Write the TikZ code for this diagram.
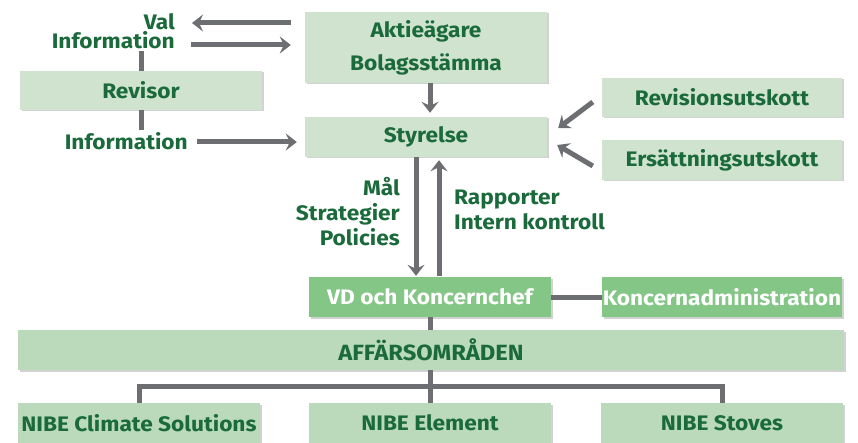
\documentclass[tikz,border=0pt]{standalone}
\usepackage{fontspec}
\setmainfont{Fira Sans}[FakeStretch=1.08]
\usetikzlibrary{arrows.meta,positioning,shadows,calc}
\definecolor{txtgreen}{HTML}{1B6A3B}
\definecolor{boxgreen}{HTML}{D0E3CF}
\definecolor{boxgreenb}{HTML}{BADABB}
\definecolor{vdgreen}{HTML}{83C686}
\definecolor{linegray}{HTML}{6D6E71}

\begin{document}
\begin{tikzpicture}[x=1pt, y=-1pt,
    every node/.style={font=\fontsize{21}{19}\selectfont\bfseries, text=txtgreen},
    box/.style={fill=boxgreen, minimum width=242pt, minimum height=40pt, inner sep=0pt, align=center,
        drop shadow={shadow xshift=1.5pt, shadow yshift=-1.5pt, fill=black!35}},
    darkbox/.style={box, fill=vdgreen, text=white},
    unitbox/.style={box, fill=boxgreenb},
    lbl/.style={inner sep=2pt},
    flow/.style={-{Stealth[length=11pt, width=17pt, inset=4pt]}, line width=5pt, draw=linegray},
    link/.style={line width=5pt, draw=linegray}
]
\useasboundingbox (0,0) rectangle (858,443);
% boxes
\node[box, minimum height=71pt, font=\fontsize{21}{33}\selectfont\bfseries] (aktie) at (426,47.5) {Aktieägare\\Bolagsstämma};
\node[box, minimum height=39pt] (revisor) at (141,90.5) {Revisor};
\node[box] (styrelse) at (426,137) {Styrelse};
\node[box, minimum width=240pt, minimum height=39pt] (revutsk) at (722,97.5) {Revisionsutskott};
\node[box, minimum width=240pt] (ersutsk) at (722,160) {Ersättningsutskott};
\node[darkbox] (vd) at (430,297) {VD och Koncernchef};
\node[darkbox, minimum width=240pt] (koncadm) at (722,297) {Koncernadministration};
\node[unitbox, minimum width=826pt, font=\fontsize{22}{24}\selectfont\bfseries] (affar) at (431,350) {AFFÄRSOMRÅDEN};
\node[unitbox] (ncs) at (139,423) {NIBE Climate Solutions};
\node[unitbox] (nel) at (430,423) {NIBE Element};
\node[unitbox] (nst) at (722,423) {NIBE Stoves};
% labels
\node[lbl, anchor=east, align=right] (valinfo) at (177,31) {Val\\Information};
\node[lbl, anchor=east] (info) at (190,141) {Information};
\node[lbl, anchor=east, align=right, font=\fontsize{21}{25}\selectfont\bfseries] (mal) at (402,212) {Mål\\Strategier\\Policies};
\node[lbl, anchor=west, align=left, font=\fontsize{21}{25}\selectfont\bfseries] (rapp) at (452,210) {Rapporter\\Intern kontroll};
% connectors
\draw[flow] ($(aktie.west)+(-14,-24.5)$) -- ($(valinfo.east)+(15,-8)$);
\draw[flow] ($(valinfo.east)+(14,14)$) -- ($(aktie.west)+(-14,-2.5)$);
\draw[link] (revisor.north) -- (revisor.north |- valinfo.south);
\draw[link] (revisor.south) -- (revisor.south |- info.north);
\draw[flow] ($(info.east)+(7,1)$) -- ($(styrelse.west)+(-8,5)$);
\draw[flow] ($(aktie.south)+(4,0)$) -- ($(styrelse.north)+(4,-4)$);
\draw[flow] ($(revutsk.west)+(-9,4.5)$) -- ($(styrelse.east)+(11,-9)$);
\draw[flow] ($(ersutsk.west)+(-9,6)$) -- ($(styrelse.east)+(10,8)$);
\draw[flow] ($(styrelse.south)+(-10,0)$) -- ($(vd.north)+(-14,-1)$);
\draw[flow] ($(vd.north)+(9,-1)$) -- ($(styrelse.south)+(13,3)$);
\draw[link] (vd.east) -- (koncadm.west);
\draw[link] (vd.south) -- (vd.south |- affar.north);
\draw[link] (nel.north) -- (nel.north |- affar.south);
\draw[link] (ncs.north) -- ++(0,-16) -| (nst.north);
\end{tikzpicture}
\end{document}
